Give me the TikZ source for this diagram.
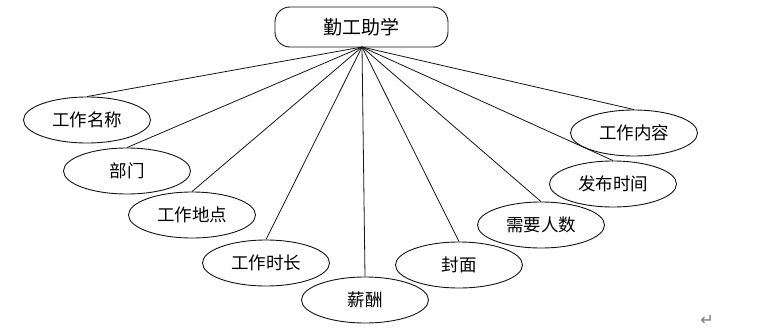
\documentclass[tikz,border=0pt]{standalone}
\usepackage{fontspec}
\newfontfamily\cjk{Noto Sans CJK SC}
\newfontfamily\symfont{DejaVu Sans}
\usepackage{tikz}
\usetikzlibrary{positioning,shapes.geometric}
\definecolor{linegray}{RGB}{20,20,20}
\definecolor{markgray}{RGB}{120,120,120}
\tikzset{
  root-node/.style={draw=linegray, line width=0.9pt, rounded corners=15pt,
    minimum width=173pt, minimum height=40pt, font=\cjk\fontsize{19}{21}\selectfont,
    inner sep=2pt},
  attr-node/.style={draw=linegray, ellipse, line width=0.9pt,
    minimum width=127pt, minimum height=46pt, font=\cjk\fontsize{17.5}{19}\selectfont,
    inner sep=0pt},
  link-line/.style={draw=linegray, line width=0.8pt}
}
\begin{document}
\begin{tikzpicture}[x=1pt, y=-1pt]
\useasboundingbox (0,0) rectangle (768,335);
% Root entity
\node[root-node] (root) at (361.5,27) {勤工助学};
\coordinate (hub) at (362,47);

% Attribute ellipses, left side
\node[attr-node] (name) at (87,120) {工作名称};
\node[attr-node] (dept) at (127,171) {部门};
\node[attr-node] (place) at (192,215) {工作地点};
\node[attr-node] (hours) at (266,263) {工作时长};
\node[attr-node] (pay) at (365,300) {薪酬};

% Attribute ellipses, right side
\node[attr-node] (cover) at (459,265) {封面};
\node[attr-node] (people) at (541,225) {需要人数};
\node[attr-node] (date) at (613,184) {发布时间};
\node[attr-node] (content) at (634,133) {工作内容};

% Links from root to each attribute
\draw[link-line] (hub) -- (name.north);
\draw[link-line] (hub) -- (dept.north);
\draw[link-line] (hub) -- (place.north);
\draw[link-line] (hub) -- (hours.north);
\draw[link-line] (hub) -- (pay.north);
\draw[link-line] (hub) -- (cover.north);
\draw[link-line] (hub) -- (people.north);
\draw[link-line] (hub) -- (date.north);
\draw[link-line] (hub) -- (content.north);

% Paragraph mark
\node[font=\symfont\fontsize{16}{17}\selectfont, text=markgray] (mark) at (707,320) {↵};
\end{tikzpicture}
\end{document}
